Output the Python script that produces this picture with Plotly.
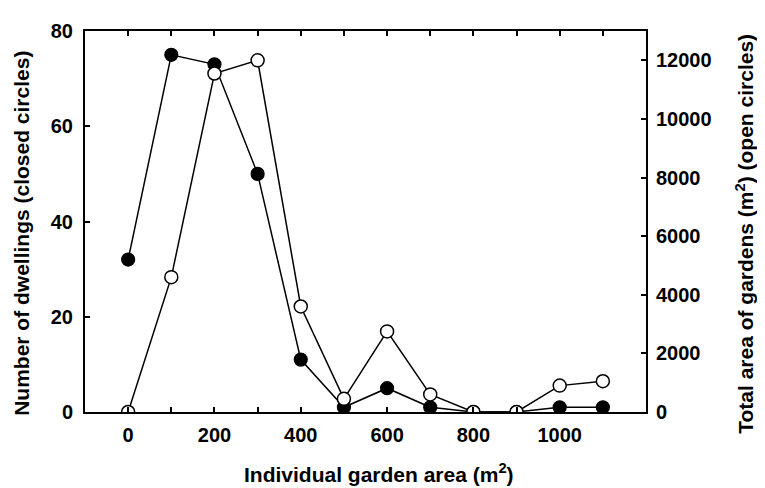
import plotly.graph_objects as go

garden_area = [0, 100, 200, 300, 400, 500, 600, 700, 800, 900, 1000, 1100]
dwellings = [32, 75, 73, 50, 11, 1, 5, 1, 0, 0, 1, 1]
total_area = [0, 4600, 11550, 12000, 3600, 450, 2750, 600, 0, 0, 900, 1050]

x_major_ticks = [0, 200, 400, 600, 800, 1000]
x_minor_ticks = [100, 300, 500, 700, 900, 1100]
y1_ticks = [0, 20, 40, 60, 80]
y2_ticks = [0, 2000, 4000, 6000, 8000, 10000, 12000]
y2_ticktext = ["0", "2000", "4000", "6000", "8000", "10000", "12000"]

FONT = "Liberation Sans, Arial, sans-serif"

fig = go.Figure()
fig.add_trace(go.Scatter(
    x=garden_area, y=dwellings, mode="lines+markers", yaxis="y",
    line=dict(color="black", width=1.5),
    marker=dict(size=13, color="black", line=dict(color="black", width=1.2)),
    showlegend=False,
))
fig.add_trace(go.Scatter(
    x=garden_area, y=total_area, mode="lines+markers", yaxis="y2",
    line=dict(color="black", width=1.5),
    marker=dict(size=13, color="white", line=dict(color="black", width=1.5)),
    showlegend=False,
))

tickfont = dict(family=FONT, size=20, color="black", weight="bold")
titlefont = dict(family=FONT, size=21, color="black", weight="bold")

fig.update_layout(
    width=757, height=480,
    margin=dict(l=77, r=119, t=14, b=76),
    paper_bgcolor="white", plot_bgcolor="white",
    xaxis=dict(
        range=[-100, 1200], tickmode="array", tickvals=x_major_ticks,
        ticks="inside", ticklen=5, tickwidth=1.5, tickcolor="black",
        minor=dict(tickmode="array", tickvals=x_minor_ticks, ticks="inside",
                   ticklen=5, tickwidth=1.5, tickcolor="black", showgrid=False),
        showline=True, linecolor="black", linewidth=2, mirror="ticks",
        showgrid=False, zeroline=False, tickfont=tickfont,
        ticklabelstandoff=4,
    ),
    yaxis=dict(
        range=[0, 80], tickvals=y1_ticks,
        ticks="inside", ticklen=5, tickwidth=1.5, tickcolor="black",
        showline=True, linecolor="black", linewidth=2,
        showgrid=False, zeroline=False, tickfont=tickfont,
        ticklabelstandoff=6,
    ),
    yaxis2=dict(
        range=[0, 13000], tickvals=y2_ticks, ticktext=y2_ticktext,
        overlaying="y", side="right",
        ticks="inside", ticklen=5, tickwidth=1.5, tickcolor="black",
        showline=True, linecolor="black", linewidth=2,
        showgrid=False, zeroline=False, tickfont=tickfont,
        ticklabelstandoff=4,
    ),
    annotations=[
        dict(text="Individual garden area (m<sup>2</sup>)", xref="paper", yref="paper",
             x=0.524, y=-0.16, showarrow=False, font=titlefont,
             xanchor="center", yanchor="middle"),
        dict(text="Number of dwellings (closed circles)", xref="paper", yref="paper",
             x=-0.112, y=0.468, showarrow=False, font=titlefont, textangle=-90,
             xanchor="center", yanchor="middle"),
        dict(text="Total area of gardens (m<sup>2</sup>) (open circles)", xref="paper", yref="paper",
             x=1.176, y=0.467, showarrow=False, font=titlefont, textangle=-90,
             xanchor="center", yanchor="middle"),
    ],
)

fig.write_html("out.html")
